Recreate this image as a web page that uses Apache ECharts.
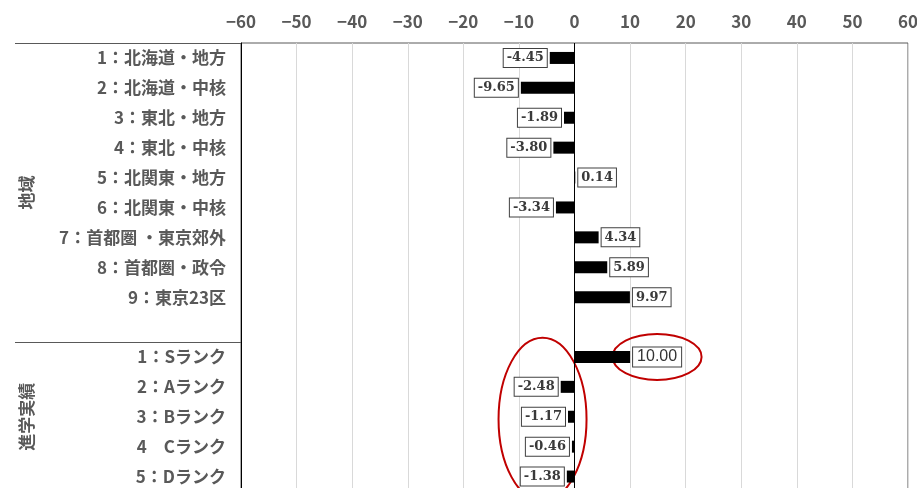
<!DOCTYPE html>
<html>
<head>
<meta charset="utf-8">
<script src="https://cdn.jsdelivr.net/npm/echarts@6/dist/echarts.min.js"></script>
<style>
  html, body { margin: 0; padding: 0; background: #fff; }
  #chart { width: 917px; height: 488px; }
</style>
</head>
<body>
<div id="chart"></div>
<script>
// Row labels (an empty row separates the two groups)
const categories = [
  '1：北海道・地方', '2：北海道・中核', '3：東北・地方', '4：東北・中核',
  '5：北関東・地方', '6：北関東・中核', '7：首都圏 ・東京郊外', '8：首都圏・政令',
  '9：東京23区', '',
  '1：Sランク', '2：Aランク', '3：Bランク', '4　Cランク', '5：Dランク'
];
// Difference values per row
const values = [
  -4.45, -9.65, -1.89, -3.80, 0.14, -3.34, 4.34, 5.89, 9.97, null,
  10.00, -2.48, -1.17, -0.46, -1.38
];
// Group captions on the far left: [caption, first row, last row]
const groupNames = ['地域', '進学実績'];
const groupFirst = [0, 10];
const groupLast = [9, 14];
// Value axis range and step
const axisMin = -60;
const axisMax = 60;
const axisStep = 10;
// Rows whose value is ringed in red
const ringSingle = 10;
const ringRangeFirst = 11;
const ringRangeLast = 14;

const GRID = { left: 241, right: 9, top: 43, height: 448.5 };
const GREY = '#595959';
const CJK = '"Noto Sans CJK JP", "Noto Sans", sans-serif';

const chart = echarts.init(document.getElementById('chart'), null, { renderer: 'canvas' });

const baseLabel = {
  show: true,
  distance: 3,
  formatter: p => p.value.toFixed(2),
  fontFamily: '"DejaVu Serif", "Liberation Serif", serif',
  fontWeight: 'bold',
  fontSize: 13,
  color: '#3a3a3a',
  backgroundColor: '#fff',
  borderColor: '#404040',
  borderWidth: 1,
  padding: [3, 3, 2, 3]
};

const barData = values.map((v, i) => {
  if (v === null) return null;
  const item = {
    value: v,
    label: Object.assign({}, baseLabel, { position: v < 0 ? 'left' : 'right' })
  };
  if (i === ringSingle) {
    Object.assign(item.label, {
      fontFamily: '"Liberation Sans", Arial, sans-serif',
      fontWeight: 'normal',
      fontSize: 16,
      color: '#333',
      padding: [2, 4, 1, 4]
    });
  }
  return item;
});

chart.setOption({
  animation: false,
  backgroundColor: '#fff',
  grid: Object.assign({
    show: true,
    borderColor: GREY,
    borderWidth: 1,
    containLabel: false,
    outerBoundsMode: 'none'
  }, GRID),
  xAxis: {
    type: 'value',
    position: 'top',
    min: axisMin,
    max: axisMax,
    interval: axisStep,
    axisLine: { show: false },
    axisTick: { show: false },
    splitLine: { show: true, lineStyle: { color: '#d9d9d9', width: 1 } },
    axisLabel: {
      margin: 13,
      fontFamily: CJK,
      fontSize: 17,
      fontWeight: 'bold',
      color: GREY,
      formatter: v => String(v).replace('-', '−')
    }
  },
  yAxis: {
    type: 'category',
    inverse: true,
    data: categories,
    axisLine: { show: true, onZero: false, lineStyle: { color: '#000', width: 1 } },
    axisTick: { show: false },
    splitLine: { show: false },
    axisLabel: {
      margin: 15,
      fontFamily: CJK,
      fontSize: 17,
      fontWeight: 'bold',
      color: GREY
    }
  },
  series: [{
    type: 'bar',
    data: barData,
    barWidth: 12,
    itemStyle: { color: '#000' },
    markLine: {
      silent: true,
      symbol: 'none',
      label: { show: false },
      lineStyle: { color: '#000', width: 1, type: 'solid' },
      data: [{ xAxis: 0 }]
    }
  }]
});

// Annotations placed from the chart's own scales
function px(x, row) {
  return chart.convertToPixel({ gridIndex: 0 }, [x, categories[row]]);
}
const gridTop = GRID.top;
const rowBand = GRID.height / categories.length;
const leftEdge = 15;
const graphics = [];

// Header rule extension and group separator in the label column
graphics.push({
  type: 'line', silent: true,
  shape: { x1: leftEdge, y1: gridTop + 0.5, x2: GRID.left, y2: gridTop + 0.5 },
  style: { stroke: GREY, lineWidth: 1 }
});
groupNames.forEach((name, g) => {
  const yTop = gridTop + groupFirst[g] * rowBand;
  const yBot = gridTop + (groupLast[g] + 1) * rowBand;
  if (g > 0) {
    graphics.push({
      type: 'line', silent: true,
      shape: { x1: leftEdge, y1: Math.round(yTop) + 0.5, x2: GRID.left, y2: Math.round(yTop) + 0.5 },
      style: { stroke: GREY, lineWidth: 1 }
    });
  }
  graphics.push({
    type: 'text', silent: true,
    x: 27, y: (yTop + yBot) / 2,
    rotation: Math.PI / 2,
    style: {
      text: name,
      fontFamily: CJK, fontSize: 17, fontWeight: 'bold',
      fill: GREY, align: 'center', verticalAlign: 'middle'
    }
  });
});

// Red rings
const single = px(values[ringSingle], ringSingle);
graphics.push({
  type: 'ellipse', silent: true,
  shape: { cx: single[0] + 27, cy: single[1], rx: 44.5, ry: 23 },
  style: { fill: 'none', stroke: '#c00000', lineWidth: 2 }
});
const topRow = px(-5.75, ringSingle);
const botRow = px(-5.75, ringRangeLast);
graphics.push({
  type: 'ellipse', silent: true,
  shape: { cx: topRow[0], cy: (topRow[1] + botRow[1]) / 2 + 2.5, rx: 44, ry: 81.5 },
  style: { fill: 'none', stroke: '#c00000', lineWidth: 2 }
});

chart.setOption({ graphic: graphics });
</script>
</body>
</html>
